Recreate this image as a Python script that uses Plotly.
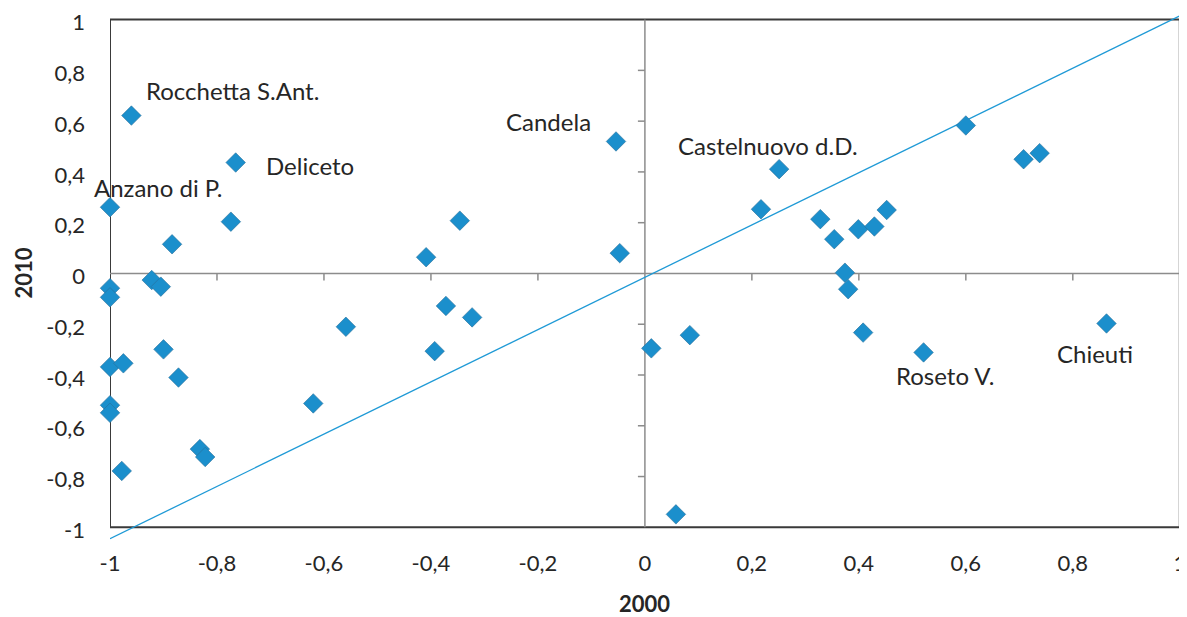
import plotly.graph_objects as go

# ---- data ----
x2000 = [-0.96, -0.765, -1.0, -0.774, -0.884, -0.922, -0.905, -1.0, -1.0, -0.559,
         -0.90, -1.0, -0.975, -0.872, -1.0, -1.0, -0.62, -0.832, -0.822, -0.978,
         -0.054, -0.346, -0.409, -0.047, -0.372, -0.323, -0.393, 0.012,
         0.251, 0.217, 0.328, 0.354, 0.399, 0.429, 0.452, 0.374, 0.38, 0.408,
         0.084, 0.521, 0.60, 0.708, 0.738, 0.863, 0.058]
y2010 = [0.622, 0.437, 0.261, 0.204, 0.115, -0.026, -0.052, -0.058, -0.094, -0.21,
         -0.299, -0.368, -0.354, -0.41, -0.519, -0.549, -0.512, -0.692, -0.723, -0.778,
         0.52, 0.208, 0.064, 0.08, -0.128, -0.173, -0.306, -0.295,
         0.411, 0.253, 0.214, 0.135, 0.174, 0.185, 0.25, 0.003, -0.062, -0.233,
         -0.243, -0.311, 0.583, 0.45, 0.474, -0.197, -0.949]

label_names = ["Rocchetta S.Ant.", "Deliceto", "Anzano di P.", "Candela",
               "Castelnuovo d.D.", "Roseto V.", "Chieuti"]
label_point = [0, 1, 2, 20, 28, 39, 43]

line_x = [-1.0, 1.005]
line_y = [-1.045, 1.02]

tick_vals = [-1, -0.8, -0.6, -0.4, -0.2, 0, 0.2, 0.4, 0.6, 0.8, 1]
x_title = "2000"
y_title = "2010"


def fmt(v):
    return ("%g" % v).replace(".", ",")


tick_text = [fmt(v) for v in tick_vals]

# ---- styling ----
FONT = "Lato"
BLUE = "#1b8fcc"
LINE_BLUE = "#1f9ad6"
TXT = "#262626"

label_style = {
    "Rocchetta S.Ant.": dict(xanchor="left", xshift=13, yshift=25),
    "Deliceto": dict(xanchor="left", xshift=28, yshift=-3),
    "Anzano di P.": dict(xanchor="left", xshift=-18, yshift=20),
    "Candela": dict(xanchor="right", xshift=-23, yshift=20),
    "Castelnuovo d.D.": dict(xanchor="center", xshift=-11, yshift=24),
    "Roseto V.": dict(xanchor="center", xshift=21, yshift=-23),
    "Chieuti": dict(xanchor="center", xshift=-12, yshift=-30),
}

fig = go.Figure()

fig.add_trace(go.Scatter(
    x=line_x, y=line_y, mode="lines",
    line=dict(color=LINE_BLUE, width=1.3),
    hoverinfo="skip", showlegend=False,
))

fig.add_trace(go.Scatter(
    x=x2000, y=y2010, mode="markers",
    marker=dict(symbol="diamond", size=15, color=BLUE,
                line=dict(color="#2a6f99", width=0.6)),
    cliponaxis=False, showlegend=False,
))

annotations = []
for name, idx in zip(label_names, label_point):
    st = label_style[name]
    annotations.append(dict(
        x=x2000[idx], y=y2010[idx], xref="x", yref="y", text=name,
        showarrow=False, yanchor="middle",
        font=dict(family=FONT, size=24, color=TXT), **st))

# axis titles
annotations.append(dict(x=0.4985, y=0, xref="paper", yref="paper",
                        text="<b>%s</b>" % x_title, showarrow=False,
                        xanchor="center", yanchor="middle", yshift=-63,
                        font=dict(family=FONT, size=22, color=TXT)))
annotations.append(dict(x=0, y=0.5048, xref="paper", yref="paper",
                        text="<b>%s</b>" % y_title, showarrow=False,
                        textangle=-90, xanchor="center", yanchor="middle",
                        xshift=-87,
                        font=dict(family=FONT, size=22, color=TXT)))

shapes = []
shapes.append(dict(type="rect", xref="x", yref="y", x0=-1, x1=1, y0=-1, y1=1,
                   line=dict(color="#3a3a3a", width=2), layer="below"))
shapes.append(dict(type="line", xref="x", yref="y", x0=0, x1=0, y0=-1, y1=1,
                   line=dict(color="#8c8c8c", width=1.5), layer="below"))
shapes.append(dict(type="line", xref="x", yref="y", x0=-1, x1=1, y0=0, y1=0,
                   line=dict(color="#8c8c8c", width=1.5), layer="below"))
for v in tick_vals:
    if v in (-1, 1, 0):
        continue
    shapes.append(dict(type="line", xref="x", yref="y", x0=v, x1=v,
                       ysizemode="pixel", yanchor=0, y0=0, y1=-7,
                       line=dict(color="#8c8c8c", width=1.5), layer="below"))
    shapes.append(dict(type="line", xref="x", yref="y", y0=v, y1=v,
                       xsizemode="pixel", xanchor=0, x0=-7, x1=0,
                       line=dict(color="#8c8c8c", width=1.5), layer="below"))

# the page body adds an 8px margin, so the figure is 8px smaller and offset
fig.update_layout(
    width=1179, height=609,
    margin=dict(l=102, r=3.8, t=4.4, b=77.3, autoexpand=False),
    paper_bgcolor="white", plot_bgcolor="white",
    font=dict(family=FONT, color=TXT),
    annotations=annotations, shapes=shapes,
)

fig.update_xaxes(
    range=[-1, 1.006], tickvals=tick_vals, ticktext=tick_text,
    showgrid=False, zeroline=False, showline=False, ticks="",
    ticklabelstandoff=8, ticklabeloverflow="allow", automargin=False,
    tickfont=dict(family=FONT, size=22, color=TXT),
)
fig.update_yaxes(
    range=[-1.05, 1.03], tickvals=tick_vals, ticktext=tick_text,
    showgrid=False, zeroline=False, showline=False, ticks="",
    ticklabelstandoff=24, ticklabelshift=3, ticklabeloverflow="allow",
    automargin=False,
    tickfont=dict(family=FONT, size=22, color=TXT),
)

fig.write_html("out.html")
